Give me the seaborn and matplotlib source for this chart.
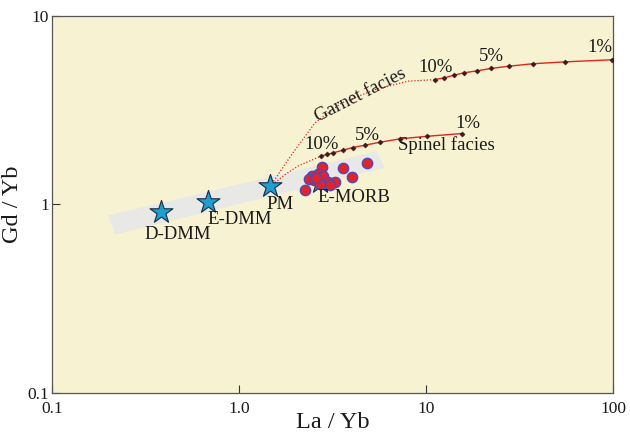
import matplotlib
matplotlib.use("Agg")
import matplotlib.pyplot as plt
import seaborn as sns
import numpy as np

# ---------------- data ----------------
star_names = ["D-DMM", "E-DMM", "PM", "E-MORB"]
star_la_yb = [0.383, 0.683, 1.466, 2.71]
star_gd_yb = [0.918, 1.037, 1.246, 1.31]

morb_la_yb = [2.78, 3.60, 4.84, 4.02, 3.26, 2.65, 2.45, 2.38, 2.52, 2.71, 2.81, 2.99, 3.07, 2.71, 2.25, 2.58]
morb_gd_yb = [1.59, 1.57, 1.66, 1.40, 1.32, 1.46, 1.41, 1.36, 1.35, 1.35, 1.42, 1.31, 1.27, 1.28, 1.19, 1.39]

# garnet facies melting curve (markers: high -> low melt fraction)
garnet_la_yb = [11.17, 12.53, 14.07, 16.03, 18.8, 22.3, 27.9, 37.2, 55.2, 99.1]
garnet_gd_yb = [4.60, 4.70, 4.85, 5.00, 5.12, 5.27, 5.42, 5.58, 5.71, 5.86]
# dotted path from PM to garnet curve
garnet_mix_la_yb = [1.466, 1.913, 2.55, 3.54, 5.34, 8.01, 11.17]
garnet_mix_gd_yb = [1.246, 1.842, 2.71, 3.46, 4.07, 4.51, 4.60]

# spinel facies melting curve
spinel_la_yb = [2.735, 2.944, 3.19, 3.59, 4.055, 4.72, 5.68, 7.26, 10.09, 15.64]
spinel_gd_yb = [1.804, 1.842, 1.88, 1.94, 2.006, 2.064, 2.14, 2.23, 2.30, 2.38]
spinel_mix_la_yb = [1.466, 1.762, 2.07, 2.735]
spinel_mix_gd_yb = [1.246, 1.44, 1.60, 1.804]

# mantle array band corners
band_la_yb = [0.200, 0.217, 6.04, 5.45]
band_gd_yb = [0.874, 0.693, 1.565, 1.918]

x_ticks = [0.1, 1, 10, 100]
x_tick_labels = ["0.1", "1.0", "10", "100"]
y_ticks = [0.1, 1, 10]
y_tick_labels = ["0.1", "1", "10"]

# ---------------- style ----------------
sns.set_style("ticks")
plt.rcParams["font.family"] = ["Liberation Serif", "DejaVu Serif"]

fig = plt.figure(figsize=(6.3, 4.36), dpi=100)
ax = fig.add_axes([52 / 630, 1 - 393 / 436, (613 - 52) / 630, (393 - 16) / 436])
ax.set_xscale("log")
ax.set_yscale("log")
ax.set_xlim(0.1, 100)
ax.set_ylim(0.1, 10)
ax.set_facecolor("#F7F3D2")

ax.fill(band_la_yb, band_gd_yb, color="#E8E8E6", zorder=1, lw=0)

red = "#E0251C"
sns.lineplot(x=garnet_mix_la_yb, y=garnet_mix_gd_yb, sort=False, ax=ax, color=red,
             lw=0.9, linestyle=(0, (1, 1.5)), zorder=2)
sns.lineplot(x=spinel_mix_la_yb, y=spinel_mix_gd_yb, sort=False, ax=ax, color=red,
             lw=0.9, linestyle=(0, (1, 1.5)), zorder=2)
sns.lineplot(x=garnet_la_yb, y=garnet_gd_yb, sort=False, ax=ax, color=red, lw=1.0, zorder=3)
sns.lineplot(x=spinel_la_yb, y=spinel_gd_yb, sort=False, ax=ax, color=red, lw=1.0, zorder=3)
sns.scatterplot(x=garnet_la_yb, y=garnet_gd_yb, ax=ax, marker="D", s=7, color="#3A1A1A",
                edgecolor="#3A1A1A", linewidth=0.3, zorder=4)
sns.scatterplot(x=spinel_la_yb, y=spinel_gd_yb, ax=ax, marker="D", s=7, color="#3A1A1A",
                edgecolor="#3A1A1A", linewidth=0.3, zorder=4)

sns.scatterplot(x=star_la_yb, y=star_gd_yb, ax=ax, marker="*", s=300, color="#1E9FD0",
                edgecolor="#1A2A40", linewidth=0.8, zorder=5)
sns.scatterplot(x=morb_la_yb, y=morb_gd_yb, ax=ax, marker="o", s=55, color="#E0242A",
                edgecolor="#5247B8", linewidth=1.0, zorder=6)

# labels for end-members
lbl_pos = {"D-DMM": (0.472, 0.693), "E-DMM": (1.012, 0.833), "PM": (1.656, 1.0), "E-MORB": (4.12, 1.089)}
txt = dict(ha="center", va="center", color="#1A1A1A", fontsize=13.5)
for name in star_names:
    lx, ly = lbl_pos[name]
    ax.text(lx, ly, name, zorder=7, **txt)

ax.text(4.44, 3.79, "Garnet facies", rotation=27, **txt)
ax.text(12.8, 2.06, "Spinel facies", **txt)
ax.text(11.2, 5.33, "10%", **txt)
ax.text(22.3, 6.10, "5%", **txt)
ax.text(85.1, 6.81, "1%", **txt)
ax.text(2.78, 2.08, "10%", **txt)
ax.text(4.84, 2.32, "5%", **txt)
ax.text(16.8, 2.69, "1%", **txt)

ax.set_xticks(x_ticks)
ax.set_xticklabels(x_tick_labels)
ax.set_yticks(y_ticks)
ax.set_yticklabels(y_tick_labels)
ax.minorticks_off()
ax.tick_params(direction="in", length=6, width=0.8, labelsize=12.5, colors="#333333", labelcolor="#1A1A1A")
ax.tick_params(axis="x", pad=5.5)
ax.tick_params(axis="y", pad=2)
for s in ax.spines.values():
    s.set_color("#555555")
    s.set_linewidth(0.9)

ax.set_xlabel("La / Yb", fontsize=17.5, color="#1A1A1A")
ax.xaxis.set_label_coords(0.5, -0.05)
ax.set_ylabel("Gd / Yb", fontsize=17.5, color="#1A1A1A", labelpad=3)

fig.savefig("out.png", dpi=100)
